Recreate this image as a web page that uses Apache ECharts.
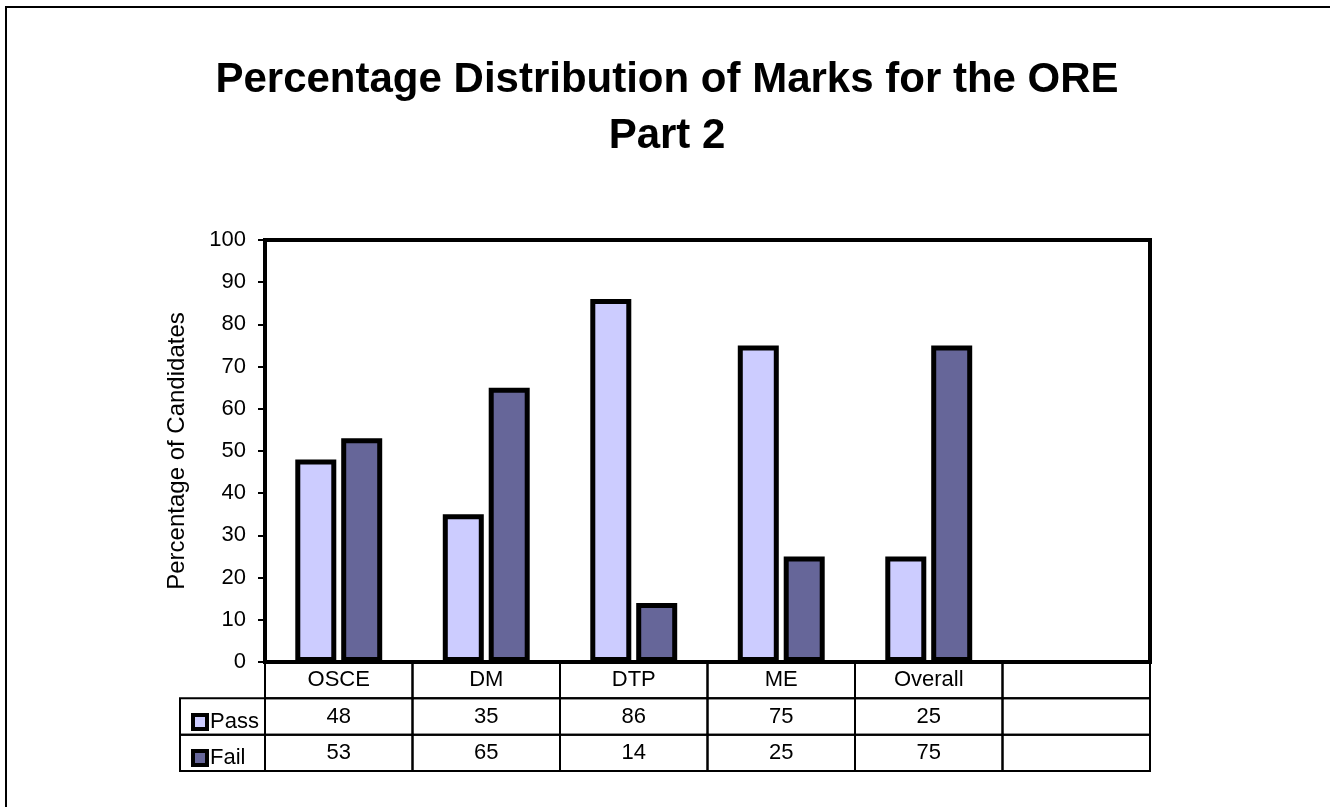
<!DOCTYPE html>
<html>
<head>
<meta charset="utf-8">
<title>Percentage Distribution of Marks for the ORE Part 2</title>
<script src="https://cdn.jsdelivr.net/npm/echarts@6/dist/echarts.min.js"></script>
<style>
  html, body { margin: 0; padding: 0; background: #fff; }
  #chart { width: 1330px; height: 807px; }
</style>
</head>
<body>
<div id="chart"></div>
<script>
// data
const categories = ["OSCE", "DM", "DTP", "ME", "Overall", ""];
const passValues = [48, 35, 86, 75, 25, null];
const failValues = [53, 65, 14, 25, 75, null];
const seriesNames = ["Pass", "Fail"];
const tableRows = ["", "Pass", "Fail"];

const FONT = "'Liberation Sans', Arial, sans-serif";
const PASS_COLOR = "#CCCCFF";
const FAIL_COLOR = "#666699";

// cells of the data table under the plot: header row + one row per series
const tableCells = [];
categories.forEach((c, i) => {
  tableCells.push({ value: [i, 0], text: c });
  tableCells.push({ value: [i, 1], text: passValues[i] == null ? "" : String(passValues[i]) });
  tableCells.push({ value: [i, 2], text: failValues[i] == null ? "" : String(failValues[i]) });
});

let chart = echarts.init(document.getElementById("chart"), null, { renderer: "canvas" });

let options = {
  animation: false,
  backgroundColor: "#fff",
  textStyle: { fontFamily: FONT, color: "#000" },
  title: {
    text: "Percentage Distribution of Marks for the ORE\nPart 2",
    left: 667,
    top: 52,
    padding: 0,
    textAlign: "center",
    textStyle: {
      fontFamily: FONT,
      fontSize: 42,
      fontWeight: "bold",
      color: "#000",
      lineHeight: 56,
    },
  },
  legend: {
    data: seriesNames,
    orient: "vertical",
    left: 186,
    top: 706,
    itemWidth: 14,
    itemHeight: 14,
    itemGap: 14,
    icon: "rect",
    selectedMode: false,
    itemStyle: { borderColor: "#000", borderWidth: 4 },
    textStyle: { fontFamily: FONT, fontSize: 22, lineHeight: 22, color: "#000", padding: [0, 0, 0, -2] },
  },
  graphic: [
    {
      // frame of the chart area (only top / left edges fall inside the picture)
      type: "rect",
      silent: true,
      shape: { x: 6, y: 7, width: 1400, height: 900 },
      style: { fill: "none", stroke: "#000", lineWidth: 2 },
    },
  ],
  grid: [
    {
      left: 265,
      right: 180,
      top: 240,
      bottom: 145,
      show: true,
      borderColor: "#000",
      borderWidth: 4,
      backgroundColor: "transparent",
    },
    {
      left: 265,
      right: 180,
      top: 662,
      height: 109,
    },
  ],
  xAxis: [
    {
      type: "category",
      gridIndex: 0,
      data: categories,
      axisLine: { show: true, lineStyle: { color: "#000", width: 4 } },
      axisTick: { show: false },
      axisLabel: { show: false },
      splitLine: { show: false },
    },
    {
      type: "category",
      gridIndex: 1,
      data: categories,
      show: false,
    },
  ],
  yAxis: [
    {
      type: "value",
      gridIndex: 0,
      min: 0,
      max: 100,
      interval: 10,
      name: "Percentage of Candidates",
      nameLocation: "middle",
      nameGap: 76,
      nameTextStyle: { fontFamily: FONT, fontSize: 24, color: "#000" },
      axisLine: { show: true, lineStyle: { color: "#000", width: 4 } },
      axisTick: { show: true, inside: false, length: 7, lineStyle: { color: "#000", width: 2 } },
      axisLabel: { fontFamily: FONT, fontSize: 22, color: "#000", margin: 19 },
      splitLine: { show: false },
    },
    {
      type: "category",
      gridIndex: 1,
      data: tableRows,
      inverse: true,
      show: false,
    },
  ],
  series: [
    {
      name: "Pass",
      type: "bar",
      xAxisIndex: 0,
      yAxisIndex: 0,
      data: passValues,
      barWidth: 41,
      barGap: "12%",
      itemStyle: { color: PASS_COLOR, borderColor: "#000", borderWidth: 5 },
    },
    {
      name: "Fail",
      type: "bar",
      xAxisIndex: 0,
      yAxisIndex: 0,
      data: failValues,
      barWidth: 41,
      barGap: "12%",
      itemStyle: { color: FAIL_COLOR, borderColor: "#000", borderWidth: 5 },
    },
    {
      // data table drawn on the second grid through its category scales
      name: "table",
      type: "custom",
      xAxisIndex: 1,
      yAxisIndex: 1,
      silent: true,
      data: tableCells,
      renderItem: function (params, api) {
        const col = api.value(0);
        const row = api.value(1);
        const p = api.coord([col, row]);
        const s = api.size([1, 1]);
        const children = [
          {
            type: "rect",
            shape: { x: p[0] - s[0] / 2, y: p[1] - s[1] / 2, width: s[0], height: s[1] },
            style: { fill: "none", stroke: "#000", lineWidth: 2 },
          },
          {
            type: "text",
            style: {
              text: tableCells[params.dataIndex].text,
              x: p[0],
              y: p[1],
              align: "center",
              verticalAlign: "middle",
              fontFamily: FONT,
              fontSize: 22,
              fill: "#000",
            },
          },
        ];
        if (row > 0 && col === 0) {
          // legend key column on the left of the table
          children.push({
            type: "rect",
            shape: { x: p[0] - s[0] / 2 - 85, y: p[1] - s[1] / 2, width: 85, height: s[1] },
            style: { fill: "none", stroke: "#000", lineWidth: 2 },
          });
        }
        return { type: "group", children: children };
      },
    },
  ],
};

chart.setOption(options, true);
</script>
</body>
</html>
